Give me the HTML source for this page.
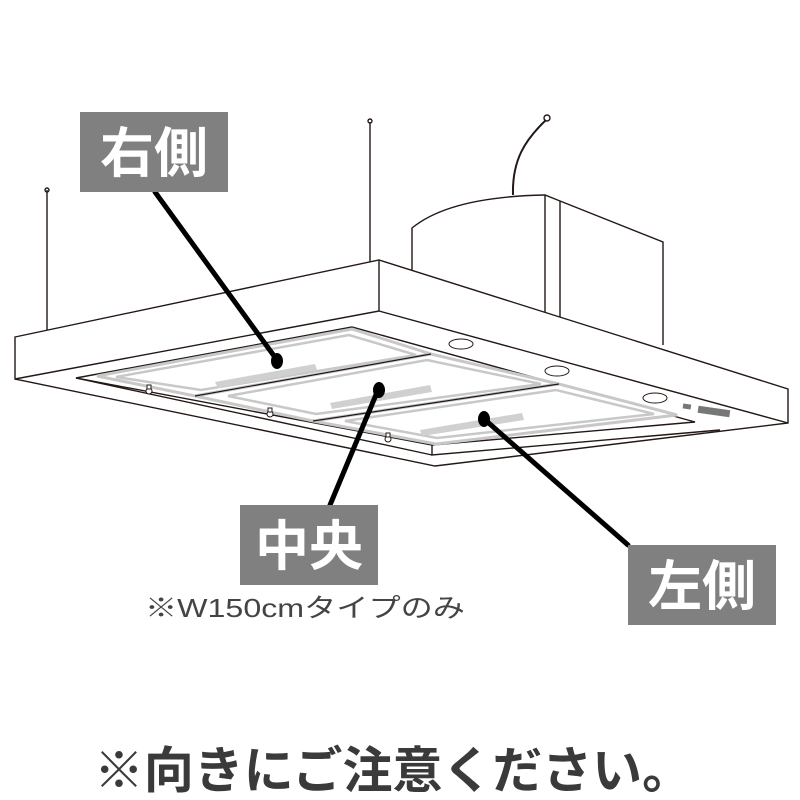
<!DOCTYPE html>
<html><head><meta charset="utf-8"><style>
body{margin:0;background:#fff;}
svg{display:block}
.lab{font-family:"Liberation Sans","Noto Sans CJK JP",sans-serif;font-weight:bold;fill:#fff}
</style></head><body>
<svg width="800" height="800" viewBox="0 0 800 800" xmlns="http://www.w3.org/2000/svg">
<g fill="none" stroke="#231815" stroke-width="1.4">
<line x1="47" y1="190" x2="47" y2="332"/>
<line x1="370" y1="122" x2="370" y2="262"/>
<path d="M513,195 C512,160 525,140 546,120" stroke-width="2"/>
<circle cx="547" cy="118" r="3"/>
<circle cx="47" cy="190" r="2"/>
<circle cx="370" cy="121" r="2"/>
<path d="M412,272 L412,228 C440,205 490,196 545,195 L560,201 L663,242 L663,345"/>
<line x1="545" y1="195" x2="545" y2="312"/>
<line x1="560" y1="201" x2="560" y2="317"/>
<path d="M15,337 L379,260 L788,389 L788,423 L435,466 L15,379 Z" fill="#fff"/>
<line x1="379" y1="260" x2="379" y2="311"/>
<path d="M15,379 L379,311 L788,423"/>
<path d="M76,378 L352,327 L695,422 L432,445 L76,378 Z"/>
<path d="M432,445 L432,455 L720,430"/>
<path d="M76,378 L432,455"/>
</g>
<g fill="#fff" stroke="#c8c8c8" stroke-width="3">
<polygon points="97,376 352,329 431,354 195,396"/>
<polygon points="116,377 349,335 416,355 201,390" stroke-width="2.5"/>
<polygon points="195,396 431,354 559,384 313,421"/>
<polygon points="228,396 427,360 541,384 316,414" stroke-width="2.5"/>
<polygon points="313,421 559,384 677,415 436,444"/>
<polygon points="345,421 556,390 654,414 437,438" stroke-width="2.5"/>
</g>
<g stroke="#231815" stroke-width="1.2" fill="none">
<line x1="195" y1="396" x2="431" y2="354"/>
<line x1="313" y1="421" x2="559" y2="384"/>
</g>
<g fill="#d0d0d0">
<polygon points="215,382 315,364 317,370 218,388"/>
<polygon points="330,403 430,385 432,392 332,409"/>
<polygon points="420,430 522,413 524,420 422,436"/>
</g>
<g fill="#fff" stroke="#231815" stroke-width="1">
<circle cx="149" cy="391" r="3"/><rect x="147" y="385" width="4" height="4"/>
<circle cx="270" cy="414" r="3"/><rect x="268" y="408" width="4" height="4"/>
<circle cx="388" cy="439" r="3"/><rect x="386" y="433" width="4" height="4"/>
<ellipse cx="461" cy="344" rx="12" ry="5"/>
<ellipse cx="557" cy="371" rx="12" ry="5"/>
<ellipse cx="655" cy="398" rx="12" ry="5"/>
</g>
<rect x="683" y="404" width="8" height="5" fill="#777" transform="rotate(8 687 406)"/>
<rect x="698" y="408" width="32" height="7" fill="#777" transform="rotate(8 714 411)"/>
<g stroke="#000" stroke-width="5" stroke-linecap="round">
<line x1="155" y1="192" x2="277" y2="360"/>
<line x1="378" y1="390" x2="330" y2="505"/>
<line x1="483" y1="418" x2="628" y2="545"/>
</g>
<g fill="#000">
<ellipse cx="277" cy="361" rx="6" ry="8"/>
<ellipse cx="379" cy="390" rx="6" ry="8"/>
<ellipse cx="484" cy="419" rx="6" ry="8"/>
</g>
<rect x="80" y="112" width="148" height="80" fill="#808080"/>
<text x="154" y="172" class="lab" font-size="54" text-anchor="middle">右側</text>
<rect x="240" y="505" width="138" height="80" fill="#808080"/>
<text x="309" y="565" class="lab" font-size="54" text-anchor="middle">中央</text>
<rect x="628" y="545" width="148" height="80" fill="#808080"/>
<text x="702" y="605" class="lab" font-size="54" text-anchor="middle">左側</text>
<text x="145" y="617" font-family="Liberation Sans,'Noto Sans CJK JP',sans-serif" font-size="26" fill="#444" textLength="320" lengthAdjust="spacingAndGlyphs">※W150cmタイプのみ</text>
<text x="94" y="788" font-family="Liberation Sans,'Noto Sans CJK JP',sans-serif" font-size="50" font-weight="bold" fill="#3a3a3a" textLength="598" lengthAdjust="spacingAndGlyphs">※向きにご注意ください。</text>
</svg>
</body></html>
